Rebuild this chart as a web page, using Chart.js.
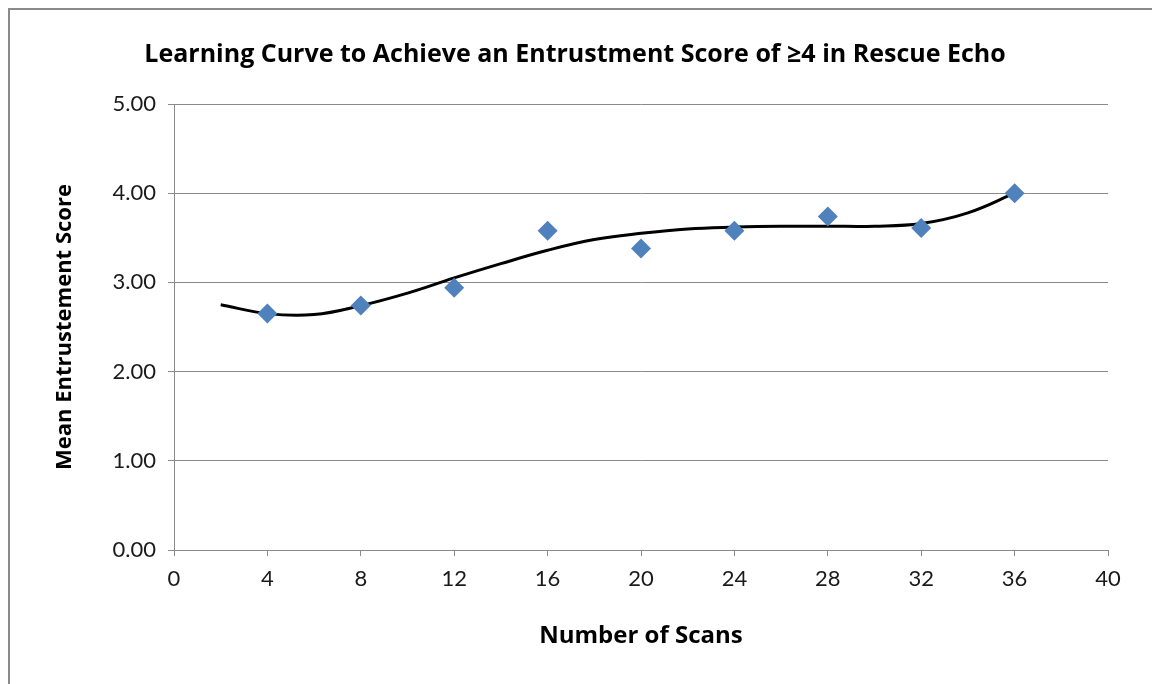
<!DOCTYPE html>
<html>
<head>
<meta charset="utf-8">
<script src="https://cdn.jsdelivr.net/npm/chart.js@4"></script>
<style>
  html, body { margin: 0; padding: 0; background: #fff; }
  #wrap { position: relative; width: 1152px; height: 684px; }
  #frame { position: absolute; left: 8px; top: 8px; right: -2px; bottom: -2px;
           border-left: 2px solid #8a8a8a; border-top: 2px solid #8a8a8a; }
  canvas { position: absolute; left: 0; top: 0; }
</style>
</head>
<body>
<div id="wrap">
  <div id="frame"></div>
  <canvas id="curva" width="1152" height="684"></canvas>
</div>
<script>
// Puntuación media por número de escaneos
const escaneos = [4, 8, 12, 16, 20, 24, 28, 32, 36];
const puntuaciones = [2.65, 2.74, 2.94, 3.58, 3.38, 3.58, 3.74, 3.61, 4.00];

// Línea de tendencia
const tendenciaX = [2, 4, 6, 8, 10, 12, 14, 16, 18, 20, 22, 24, 26, 28, 30, 32, 34, 36];
const tendenciaY = [2.75, 2.65, 2.64, 2.74, 2.88, 3.05, 3.21, 3.36, 3.48, 3.55, 3.60, 3.62, 3.63, 3.63, 3.63, 3.66, 3.78, 4.00];

const ticksY = [0, 1, 2, 3, 4, 5];

const fuente = 'Lato, "Open Sans", sans-serif';
const fuenteTitulo = '"Open Sans", Lato, sans-serif';
const gris = '#8a8a8a';

const ctx = document.getElementById('curva').getContext('2d');

new Chart(ctx, {
    data: {
        datasets: [
            {
                type: 'scatter',
                label: 'Puntuación',
                data: escaneos.map((x, i) => ({ x: x, y: puntuaciones[i] })),
                backgroundColor: '#4F81BD',
                borderColor: '#4F81BD',
                pointStyle: 'rectRot',
                pointRadius: 10,
                pointHoverRadius: 10,
                borderWidth: 0,
                order: 1
            },
            {
                type: 'line',
                label: 'Tendencia',
                data: tendenciaX.map((x, i) => ({ x: x, y: tendenciaY[i] })),
                borderColor: '#000',
                borderWidth: 3,
                pointRadius: 0,
                fill: false,
                tension: 0.4,
                order: 2
            }
        ]
    },
    options: {
        responsive: false,
        animation: false,
        layout: { padding: { left: 42, right: 44, top: 0, bottom: 24 } },
        plugins: {
            legend: { display: false },
            tooltip: { enabled: false },
            title: {
                display: true,
                text: 'Learning Curve to Achieve an Entrustment Score of ≥4 in Rescue Echo',
                color: '#000',
                font: { family: fuenteTitulo, size: 25, weight: 'bold' },
                padding: { top: 40, bottom: 34 }
            }
        },
        scales: {
            x: {
                type: 'linear',
                min: 0,
                max: 40,
                afterFit: s => { s.height = 110; },
                ticks: {
                    stepSize: 4,
                    color: '#1a1a1a',
                    font: { family: fuente, size: 22 },
                    padding: 10,
                    maxRotation: 0
                },
                grid: {
                    drawOnChartArea: false,
                    drawTicks: true,
                    tickLength: 6,
                    color: gris
                },
                border: { color: gris, width: 1 },
                title: {
                    display: true,
                    text: 'Number of Scans',
                    color: '#000',
                    font: { family: fuenteTitulo, size: 24, weight: 'bold' },
                    padding: { top: 0, bottom: 9 }
                }
            },
            y: {
                type: 'linear',
                min: 0,
                max: 5,
                afterFit: s => { s.width = 132; },
                afterBuildTicks: s => { s.ticks = ticksY.map(v => ({ value: v })); },
                ticks: {
                    color: '#1a1a1a',
                    font: { family: fuente, size: 22 },
                    padding: 12,
                    callback: v => v.toFixed(2)
                },
                grid: {
                    drawOnChartArea: true,
                    drawTicks: true,
                    tickLength: 6,
                    color: gris
                },
                border: { color: gris, width: 1 },
                title: {
                    display: true,
                    text: 'Mean Entrustement Score',
                    color: '#000',
                    font: { family: fuenteTitulo, size: 22, weight: 'bold' },
                    padding: { top: 10, bottom: 0 }
                }
            }
        }
    }
});
</script>
</body>
</html>
